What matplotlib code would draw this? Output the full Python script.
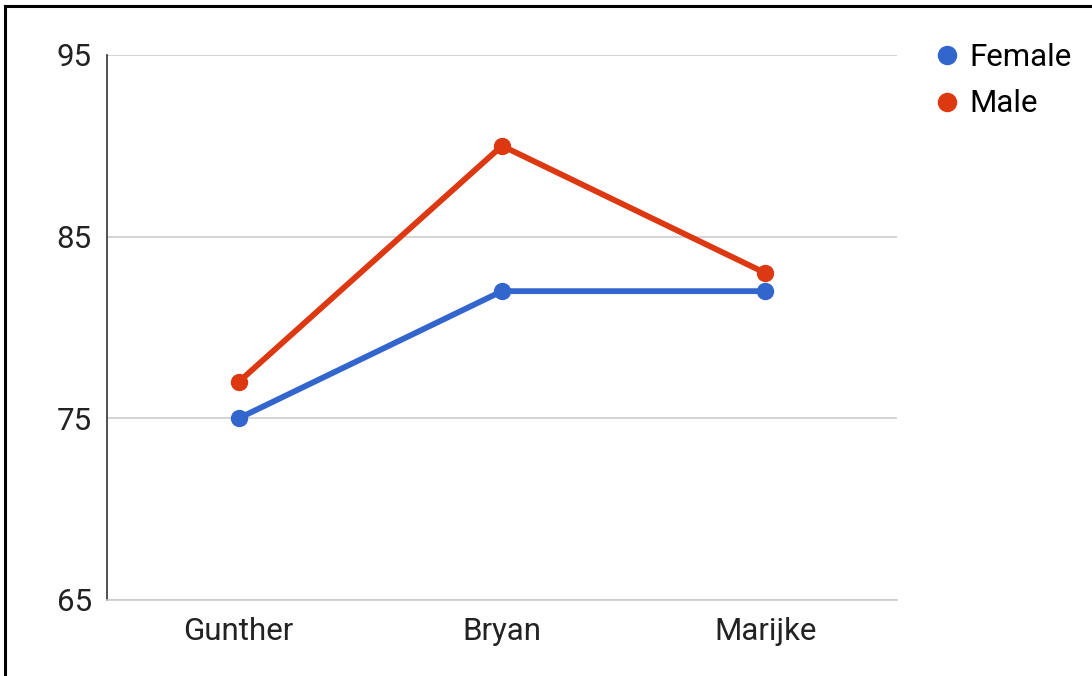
import matplotlib
matplotlib.use("Agg")
import matplotlib.pyplot as plt
from matplotlib.lines import Line2D

plt.rcParams['font.family'] = ['Roboto', 'DejaVu Sans']

names = ["Gunther", "Bryan", "Marijke"]
female = [75, 82, 82]
male = [77, 90, 83]
yticks = [65, 75, 85, 95]

blue = "#3366cc"
red = "#dc3912"

fig = plt.figure(figsize=(10.92, 6.76), dpi=100)
ax = fig.add_axes([107 / 1092, 1 - 600 / 676, 790 / 1092, 545 / 676])

x = list(range(len(names)))
ax.plot(x, female, color=blue, lw=4.2, marker="o", ms=11.5, zorder=3, label="Female")
ax.plot(x, male, color=red, lw=4.2, marker="o", ms=11.5, zorder=3, label="Male")

ax.set_xlim(-0.5, len(names) - 0.5)
ax.set_ylim(65, 95)
ax.set_yticks(yticks)
ax.set_yticklabels([str(v) for v in yticks])
ax.set_xticks(x)
ax.set_xticklabels(names)
ax.tick_params(axis="both", length=0, labelsize=22.5, colors="#222222")
ax.tick_params(axis="y", pad=11)
ax.tick_params(axis="x", pad=12)

ax.grid(axis="y", color="#cccccc", lw=1.2)
ax.set_axisbelow(True)
for s in ["top", "right"]:
    ax.spines[s].set_visible(False)
ax.spines["left"].set_color("#333333")
ax.spines["left"].set_linewidth(1.2)
ax.spines["bottom"].set_color("#cccccc")
ax.spines["bottom"].set_linewidth(1.2)

handles = [Line2D([], [], color=blue, marker="o", ls="none", ms=13),
           Line2D([], [], color=red, marker="o", ls="none", ms=13)]
fig.legend(handles, ["Female", "Male"], loc="upper left",
           bbox_to_anchor=(936 / 1092, 1 - 43 / 676), frameon=False,
           fontsize=22.5, handlelength=0.7, handletextpad=0.38,
           labelspacing=0.56, borderaxespad=0, borderpad=0)

# outer frame (only top and left edges visible in the crop)
fig.add_artist(Line2D([5 / 1092, 5 / 1092], [0, 1 - 6 / 676], transform=fig.transFigure,
                      color="black", lw=2.2))
fig.add_artist(Line2D([5 / 1092, 1], [1 - 6 / 676, 1 - 6 / 676], transform=fig.transFigure,
                      color="black", lw=2.2))

fig.savefig("out.png", dpi=100)
